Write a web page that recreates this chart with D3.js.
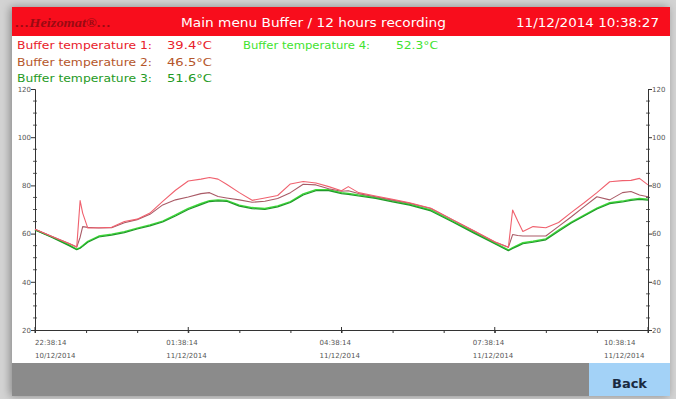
<!DOCTYPE html>
<html>
<head>
<meta charset="utf-8">
<script src="https://cdn.jsdelivr.net/npm/d3@7/dist/d3.min.js"></script>
<style>
  html, body { margin: 0; padding: 0; background: #d2d2d2; }
  svg { display: block; }
</style>
</head>
<body>
<svg id="chart" width="676" height="399"></svg>
<script>
// Recording time in minutes since 22:38:14 (10/12/2014)
const minutes = [0,20,40,49,53,56,62,75,90,105,120,135,150,165,180,195,205,215,225,240,255,270,285,300,315,330,345,360,368,380,400,420,440,465,490,515,540,556,561,567,573,585,600,615,630,645,660,675,690,700,710,720];

// Buffer temperatures in °C
const buffer1 = [61.8,58.8,55.9,54.4,73.7,68.5,62.3,62.4,62.6,65.0,66.0,68.5,73.4,78.0,81.8,82.6,83.3,82.6,80.5,77.0,73.8,74.8,75.8,80.6,81.6,81.0,79.5,77.8,79.5,77.0,75.6,74.2,72.8,70.5,65.9,61.3,56.6,54.3,69.8,65.2,60.9,62.9,62.4,64.6,68.8,72.8,77.0,81.5,82.0,82.1,82.9,80.2];
const buffer2 = [61.8,58.8,55.9,54.4,58.5,62.9,62.6,62.3,62.4,64.5,65.8,68.0,71.9,74.0,75.2,76.6,77.0,75.4,74.8,74.0,73.0,73.4,74.6,77.0,80.5,80.2,78.6,77.6,77.8,76.6,75.3,73.9,72.6,70.4,65.8,61.2,56.5,54.3,59.6,59.2,59.0,59.0,59.0,63.0,67.0,71.2,75.3,74.0,77.0,77.5,76.0,75.3];
const buffer3 = [61.5,58.4,55.0,53.3,53.9,54.7,56.4,58.6,59.4,60.4,61.9,63.2,64.8,67.3,70.0,72.0,73.3,73.6,73.4,71.4,70.4,70.0,71.1,72.9,76.0,77.8,77.8,76.6,76.3,75.6,74.6,73.2,71.8,69.4,64.9,60.3,55.8,52.9,53.8,54.8,55.8,56.4,57.4,61.0,64.4,67.3,70.2,72.4,73.1,73.8,74.2,73.9];
const buffer4 = [61.6,58.6,55.3,53.6,54.2,55.0,56.8,59.0,59.8,60.8,62.3,63.6,65.2,67.8,70.5,72.5,73.7,74.0,73.8,71.8,70.8,70.4,71.5,73.3,76.5,78.2,78.2,77.0,76.7,76.0,75.0,73.6,72.2,69.8,65.3,60.7,56.2,53.2,54.2,55.2,56.2,56.8,57.8,61.5,64.8,67.7,70.6,72.8,73.5,74.2,74.6,74.3];

// Current readings shown in the legend
const legendNames = ["Buffer temperature 1:", "Buffer temperature 2:", "Buffer temperature 3:", "Buffer temperature 4:"];
const legendValues = ["39.4°C", "46.5°C", "51.6°C", "52.3°C"];

// Axis labels
const yTicks = [20, 40, 60, 80, 100, 120];
const xTickMinutes = [0, 180, 360, 540, 720];
const xTimeLabels = ["22:38:14", "01:38:14", "04:38:14", "07:38:14", "10:38:14"];
const xDateLabels = ["10/12/2014", "11/12/2014", "11/12/2014", "11/12/2014", "11/12/2014"];

const title = "Main menu Buffer / 12 hours recording";
const stamp = "11/12/2014 10:38:27";

const svg = d3.select("#chart");
const W = 676, H = 399;
const panel = {x0: 12, x1: 670, y0: 7, y1: 396};

// soft shadow around the panel
const defs = svg.append("defs");
const f = defs.append("filter").attr("id", "shadow").attr("x", "-5%").attr("y", "-5%").attr("width", "110%").attr("height", "110%");
f.append("feGaussianBlur").attr("in", "SourceAlpha").attr("stdDeviation", 4);
f.append("feOffset").attr("dx", -2).attr("dy", 0).attr("result", "b");
f.append("feFlood").attr("flood-color", "#000").attr("flood-opacity", 0.35);
f.append("feComposite").attr("in2", "b").attr("operator", "in");
const fm = f.append("feMerge");
fm.append("feMergeNode");
fm.append("feMergeNode").attr("in", "SourceGraphic");

svg.append("rect").attr("width", W).attr("height", H).attr("fill", "#d3d3d3");

svg.append("rect")
  .attr("x", panel.x0).attr("y", panel.y0)
  .attr("width", panel.x1 - panel.x0).attr("height", panel.y1 - panel.y0)
  .attr("fill", "#fff").attr("filter", "url(#shadow)");

// header bar
svg.append("rect").attr("x", panel.x0).attr("y", panel.y0)
  .attr("width", panel.x1 - panel.x0).attr("height", 29).attr("fill", "#f80d1c");

const font = "'DejaVu Sans', Verdana, sans-serif";

// logo
const logo = svg.append("g");
logo.append("text").attr("x", 15).attr("y", 27)
  .attr("font-family", "'Liberation Serif', serif").attr("font-style", "italic").attr("font-weight", "bold")
  .attr("font-size", 12).attr("fill", "#9a0a12")
  .attr("textLength", 96).attr("lengthAdjust", "spacingAndGlyphs")
  .text("…Heizomat®…");

svg.append("text").attr("x", 181).attr("y", 27)
  .attr("font-family", font).attr("font-size", 12.5).attr("fill", "#fff")
  .attr("textLength", 265).attr("lengthAdjust", "spacingAndGlyphs")
  .text(title);

svg.append("text").attr("x", 516).attr("y", 27)
  .attr("font-family", font).attr("font-size", 12.5).attr("fill", "#fff")
  .attr("textLength", 143).attr("lengthAdjust", "spacingAndGlyphs")
  .text(stamp);

// legend
const legendColors = ["#e8202a", "#b5562a", "#1f9a24", "#3fe32f"];
const legendPos = [
  {x: 17, vx: 167, y: 49, w: 135, vw: 45},
  {x: 17, vx: 167, y: 66, w: 135, vw: 45},
  {x: 17, vx: 167, y: 82, w: 135, vw: 45},
  {x: 243, vx: 396, y: 49, w: 127, vw: 42}
];
legendNames.forEach((name, i) => {
  const p = legendPos[i];
  svg.append("text").attr("x", p.x).attr("y", p.y)
    .attr("font-family", font).attr("font-size", 11).attr("fill", legendColors[i])
    .attr("textLength", p.w).attr("lengthAdjust", "spacingAndGlyphs").text(name);
  svg.append("text").attr("x", p.vx).attr("y", p.y)
    .attr("font-family", font).attr("font-size", 11).attr("fill", legendColors[i])
    .attr("textLength", p.vw).attr("lengthAdjust", "spacingAndGlyphs").text(legendValues[i]);
});

// scales
const x = d3.scaleLinear().domain([0, 720]).range([35, 648]);
const y = d3.scaleLinear().domain([20, 120]).range([330, 89]);

const axisColor = "#333";
const labelColor = "#555";
const tickFont = 7;

// left axis
const leftAxis = d3.axisLeft(y).tickValues(yTicks).tickSize(4).tickFormat(d3.format("d"));
const gl = svg.append("g").attr("transform", `translate(${x(0)},0)`).call(leftAxis);
// right axis
const rightAxis = d3.axisRight(y).tickValues(yTicks).tickSize(4).tickFormat(d3.format("d"));
const gr = svg.append("g").attr("transform", `translate(${x(720)},0)`).call(rightAxis);
// bottom axis
const bottomAxis = d3.axisBottom(x).tickValues(d3.range(0, 721, 60)).tickSize(3).tickFormat("");
const gb = svg.append("g").attr("transform", `translate(0,${y(20)})`).call(bottomAxis);

[gl, gr, gb].forEach(g => {
  g.select(".domain").attr("stroke", axisColor).attr("stroke-width", 1);
  g.selectAll(".tick line").attr("stroke", axisColor);
  g.selectAll("text").attr("font-family", font).attr("font-size", tickFont).attr("fill", labelColor);
});
gl.selectAll("text").attr("x", -4);
gr.selectAll("text").attr("x", 4);

// minor y ticks every 5 units
const minorY = d3.range(20, 121, 5).filter(v => v % 20 !== 0);
[x(0), x(720)].forEach(px => {
  svg.append("g").selectAll("line").data(minorY).join("line")
    .attr("x1", px - 2).attr("x2", px + 2)
    .attr("y1", d => y(d)).attr("y2", d => y(d))
    .attr("stroke", axisColor).attr("stroke-width", 0.8);
});
// major bottom ticks cross the axis
svg.append("g").selectAll("line").data(xTickMinutes).join("line")
  .attr("x1", d => x(d)).attr("x2", d => x(d))
  .attr("y1", y(20) - 3).attr("y2", y(20) + 3)
  .attr("stroke", axisColor);

// bottom labels: time over date, block centred on tick and kept inside the plot
const xl = svg.append("g");
xTickMinutes.forEach((m, i) => {
  const blockW = 44;
  let left = x(m) - blockW / 2;
  left = Math.max(x(0), Math.min(x(720) - blockW, left));
  xl.append("text").attr("x", left).attr("y", 344.5)
    .attr("font-family", font).attr("font-size", tickFont).attr("fill", labelColor).text(xTimeLabels[i]);
  xl.append("text").attr("x", left).attr("y", 357.5)
    .attr("font-family", font).attr("font-size", tickFont).attr("fill", labelColor).text(xDateLabels[i]);
});

// series lines
const series = [
  {values: buffer4, color: "#3fdc3a", width: 1.4},
  {values: buffer3, color: "#1f9a28", width: 1.2},
  {values: buffer2, color: "#a95a66", width: 1.1},
  {values: buffer1, color: "#f0616e", width: 1.1}
];
const line = d3.line().x((d, i) => x(minutes[i])).y(d => y(d));
svg.append("g").selectAll("path").data(series).join("path")
  .attr("d", s => line(s.values))
  .attr("fill", "none")
  .attr("stroke", s => s.color)
  .attr("stroke-width", s => s.width)
  .attr("stroke-linejoin", "round");

// footer bar and Back button
svg.append("rect").attr("x", panel.x0).attr("y", 363)
  .attr("width", panel.x1 - panel.x0).attr("height", panel.y1 - 363).attr("fill", "#8b8b8b");
svg.append("rect").attr("x", 589).attr("y", 363)
  .attr("width", panel.x1 - 589).attr("height", panel.y1 - 363).attr("fill", "#a3d2f7");
svg.append("text").attr("x", 629.5).attr("y", 388)
  .attr("text-anchor", "middle")
  .attr("font-family", font).attr("font-size", 13).attr("font-weight", "bold").attr("fill", "#1a2a40")
  .text("Back");
</script>
</body>
</html>
